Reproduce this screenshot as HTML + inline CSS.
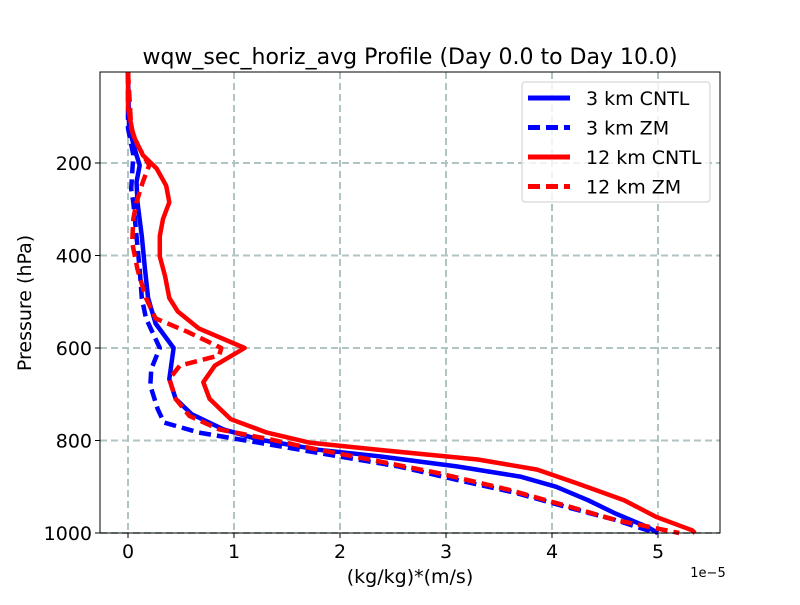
<!DOCTYPE html>
<html><head><meta charset="utf-8"><style>
body{margin:0;background:#fff}
svg text{font-family:"DejaVu Sans","Liberation Sans",sans-serif;fill:#000}
</style></head><body>
<svg id="chart" width="800" height="600" viewBox="0 0 800 600" xmlns="http://www.w3.org/2000/svg">
<rect width="800" height="600" fill="#fff"/>
<g id="grid"></g><g id="series"></g><g id="axes"></g>
<text x="410" y="64" font-size="22" text-anchor="middle">wqw_sec_horiz_avg Profile (Day 0.0 to Day 10.0)</text>
<text x="410" y="583" font-size="19" text-anchor="middle">(kg/kg)*(m/s)</text>
<text x="31" y="303" font-size="19" text-anchor="middle" transform="rotate(-90 31 303)">Pressure (hPa)</text>
<text x="708" y="577" font-size="13" text-anchor="middle">1e−5</text>
<g id="legend"></g>
</svg>
<script>
const xTicks=[0,1,2,3,4,5];
const yTicks=[200,400,600,800,1000];
const p_cntl3=[0,125,183,205,241,285,358,430,492,547,600,667,710,743,776,798,820,834,856,878,900,929,958,987,1000];
const v_cntl3=[0,0.01,0.08,0.11,0.08,0.09,0.13,0.16,0.19,0.26,0.43,0.39,0.45,0.6,0.9,1.24,1.8,2.36,3.1,3.7,4.04,4.34,4.6,4.9,5.0];
const p_zm3=[0,125,183,256,285,358,430,492,536,600,645,681,732,761,783,805,827,856,885,914,943,972,1000];
const v_zm3=[0,0,0.05,0.03,0.05,0.08,0.11,0.13,0.17,0.3,0.22,0.21,0.28,0.34,0.67,1.24,1.8,2.55,3.1,3.67,4.12,4.6,4.98];
const p_cntl12=[0,81,140,183,212,249,285,321,358,402,445,492,521,558,600,638,674,710,754,783,805,820,841,863,892,929,965,994,1000];
const v_cntl12=[0,0,0.05,0.14,0.27,0.36,0.39,0.33,0.3,0.3,0.35,0.39,0.47,0.67,1.1,0.82,0.71,0.77,0.97,1.31,1.72,2.36,3.3,3.86,4.23,4.68,4.98,5.32,5.35];
const p_zm12=[0,125,161,205,241,285,321,372,430,492,536,565,600,616,638,667,710,747,776,798,820,841,870,907,943,972,1000];
const v_zm12=[0,0.03,0.09,0.2,0.14,0.08,0.05,0.04,0.09,0.17,0.26,0.56,0.88,0.86,0.49,0.39,0.45,0.58,0.86,1.35,1.8,2.28,2.92,3.6,4.16,4.6,5.2];
const L=100,R=720,T=72,B=533;
const X=v=>128+v*106;
const Y=p=>B-(1000-p)*0.4625;
const NS="http://www.w3.org/2000/svg";
function mk(tag,attrs,parent){const e=document.createElementNS(NS,tag);for(const k in attrs)e.setAttribute(k,attrs[k]);parent.appendChild(e);return e;}
const grid=document.getElementById('grid'),axes=document.getElementById('axes'),ser=document.getElementById('series'),leg=document.getElementById('legend');
xTicks.forEach(t=>{
 const g=mk('line',{x1:X(t),x2:X(t),y1:T,y2:B,stroke:'#b0c4c4','stroke-width':2,'stroke-dasharray':'7,4'},grid);
 
 
 mk('line',{x1:X(t),x2:X(t),y1:B,y2:B+5,stroke:'#000'},axes);
 const tx=mk('text',{x:X(t),y:B+25,'font-size':19,'text-anchor':'middle'},axes);tx.textContent=t;
 
 
});
yTicks.forEach(t=>{
 const g=mk('line',{x1:L,x2:R,y1:Y(t),y2:Y(t),stroke:'#b0c4c4','stroke-width':2,'stroke-dasharray':'7,4'},grid);
 
 
 mk('line',{x1:L-5,x2:L,y1:Y(t),y2:Y(t),stroke:'#000'},axes);
 const tx=mk('text',{x:L-8,y:Y(t)+7,'font-size':19,'text-anchor':'end'},axes);tx.textContent=t;
 
 
});
const fr=mk('rect',{x:L,y:T,width:R-L,height:B-T,fill:'none',stroke:'#000','stroke-width':1},axes);


const S=[
 {n:'3 km CNTL',p:p_cntl3,v:v_cntl3,c:'#0000ff',d:'',id:'series-3km-cntl'},
 {n:'3 km ZM',p:p_zm3,v:v_zm3,c:'#0000ff',d:'12,6',id:'series-3km-zm'},
 {n:'12 km CNTL',p:p_cntl12,v:v_cntl12,c:'#ff0000',d:'',id:'series-12km-cntl'},
 {n:'12 km ZM',p:p_zm12,v:v_zm12,c:'#ff0000',d:'12,6',id:'series-12km-zm'}];
S.forEach((s,i)=>{
 const pts=s.p.map((p,j)=>X(s.v[j]).toFixed(1)+','+Y(Math.max(p,3)).toFixed(1)).join(' ');
 const pl=mk('polyline',{points:pts,fill:'none',stroke:s.c,'stroke-width':4.5,'stroke-dasharray':s.d,'stroke-linejoin':'round'},ser);
 
 
});
const lb=mk('rect',{x:522,y:82,width:188,height:120,rx:3,fill:'#fff',stroke:'#ccc','fill-opacity':0.8},leg);


S.forEach((s,i)=>{
 const y=98+i*29.5;
 mk('line',{x1:528,x2:570,y1:y,y2:y,stroke:s.c,'stroke-width':5,'stroke-dasharray':s.d},leg);
 const t=mk('text',{x:586,y:y+7,'font-size':19},leg);t.textContent=s.n;
 
 
});
</script>
</body></html>
